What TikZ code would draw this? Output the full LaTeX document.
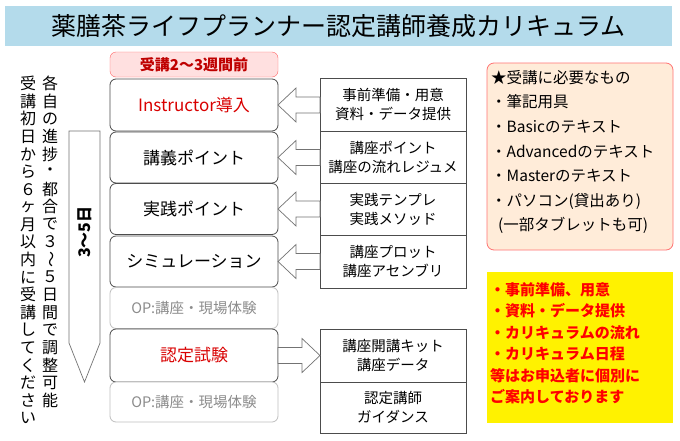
\documentclass[tikz,border=0pt]{standalone}
\usepackage{fontspec}
\setmainfont{Noto Sans CJK JP}
\begin{document}
\begin{tikzpicture}[x=1pt,y=-1pt,
  lbox/.style={draw=black!70,rounded corners=6pt,fill=white,minimum width=168pt,line width=0.8pt,font=\fontsize{17}{19}\selectfont},
  opbox/.style={lbox,draw=black!25,text=black!45,font=\fontsize{14.5}{16}\selectfont},
  rbox/.style={draw=black!70,fill=white,minimum width=146pt,line width=0.8pt,align=center,inner sep=1pt,font=\fontsize{14.5}{19}\selectfont},
  harrow/.style={draw=black!55,fill=white,line width=0.7pt},
  vch/.style={font=\fontsize{16}{16}\selectfont,inner sep=0pt}]
\useasboundingbox (0,0) rectangle (680,440);
\fill[white] (0,0) rectangle (680,440);
\node[fill=cyan!20!white!85!teal,minimum width=667pt,minimum height=40pt,font=\fontsize{25}{27}\selectfont] (title) at (338.5,26) {薬膳茶ライフプランナー認定講師養成カリキュラム};
\node[draw=red!60,fill=red!12,rounded corners=6pt,minimum width=168pt,minimum height=25pt,text=red!75!black,font=\bfseries\fontsize{15}{17}\selectfont] (pre) at (194,64.5) {受講2～3週間前};
\node[lbox,minimum height=52pt,text=red!85!black] (b1) at (194,105) {Instructor導入};
\node[lbox,minimum height=51pt] (b2) at (194,157.5) {講義ポイント};
\node[lbox,minimum height=51pt] (b3) at (194,209) {実践ポイント};
\node[lbox,minimum height=51pt] (b4) at (194,261.5) {シミュレーション};
\node[opbox,minimum height=41pt] (b5) at (194,308) {OP:講座・現場体験};
\node[lbox,minimum height=53pt,text=red!85!black] (b6) at (194,355.5) {認定試験};
\node[opbox,minimum height=40pt] (b7) at (194,402) {OP:講座・現場体験};
\node[rbox,minimum height=53pt] (r1) at (393,104.5) {事前準備・用意\\資料・データ提供};
\node[rbox,minimum height=52pt] (r2) at (393,157) {講座ポイント\\講座の流れレジュメ};
\node[rbox,minimum height=52pt] (r3) at (393,209) {実践テンプレ\\実践メソッド};
\node[rbox,minimum height=53pt] (r4) at (393,261.5) {講座プロット\\講座アセンブリ};
\node[rbox,minimum height=53pt] (r5) at (393,355.5) {講座開講キット\\講座データ};
\node[rbox,minimum height=51pt] (r6) at (393,407.5) {認定講師\\ガイダンス};
\foreach \y in {105,157.5,209,261.5}
  \draw[harrow] (278,\y) -- (296,\y-17) -- (296,\y-8) -- (320,\y-8) -- (320,\y+8) -- (296,\y+8) -- (296,\y+17) -- cycle;
\draw[harrow] (320,355.5) -- (302,338.5) -- (302,347.5) -- (278,347.5) -- (278,363.5) -- (302,363.5) -- (302,372.5) -- cycle;
\draw[harrow] (69,131) -- (100,131) -- (100,343) -- (84.5,382) -- (69,343) -- cycle;
\node[rotate=90,font=\bfseries\fontsize{16}{18}\selectfont] (days) at (84.5,232) {3～5日};
\foreach \c [count=\i] in {各,自,の,進,捗,・,都,合,で,３,{\rotatebox{-90}{～}},５,日,間,で,調,整,可,能}
  \node[vch] at (50,66+\i*17.6) {\c};
\foreach \c [count=\i] in {受,講,初,日,か,ら,６,ヶ,月,以,内,に,受,講,し,て,く,だ,さ,い}
  \node[vch] at (28,66+\i*17.6) {\c};
\node[draw=red!55,fill=orange!15,rounded corners=7pt,minimum width=186pt,minimum height=187pt,line width=0.8pt] (need) at (580,156.5) {};
\node[anchor=north west,align=left,inner sep=0pt,font=\fontsize{15.5}{24.6}\selectfont] (needt) at (491,70) {★受講に必要なもの\\・筆記用具\\・Basicのテキスト\\・Advancedのテキスト\\・Masterのテキスト\\・パソコン(貸出あり)\\\ \ (一部タブレットも可)};
\node[fill=yellow,minimum width=186pt,minimum height=151pt] (note) at (580,347.5) {};
\node[anchor=north west,align=left,inner sep=0pt,text=red,font=\bfseries\fontsize{15}{21.5}\selectfont] (notet) at (490,282) {・事前準備、用意\\・資料・データ提供\\・カリキュラムの流れ\\・カリキュラム日程\\等はお申込者に個別に\\ご案内しております};
\end{tikzpicture}
\end{document}
